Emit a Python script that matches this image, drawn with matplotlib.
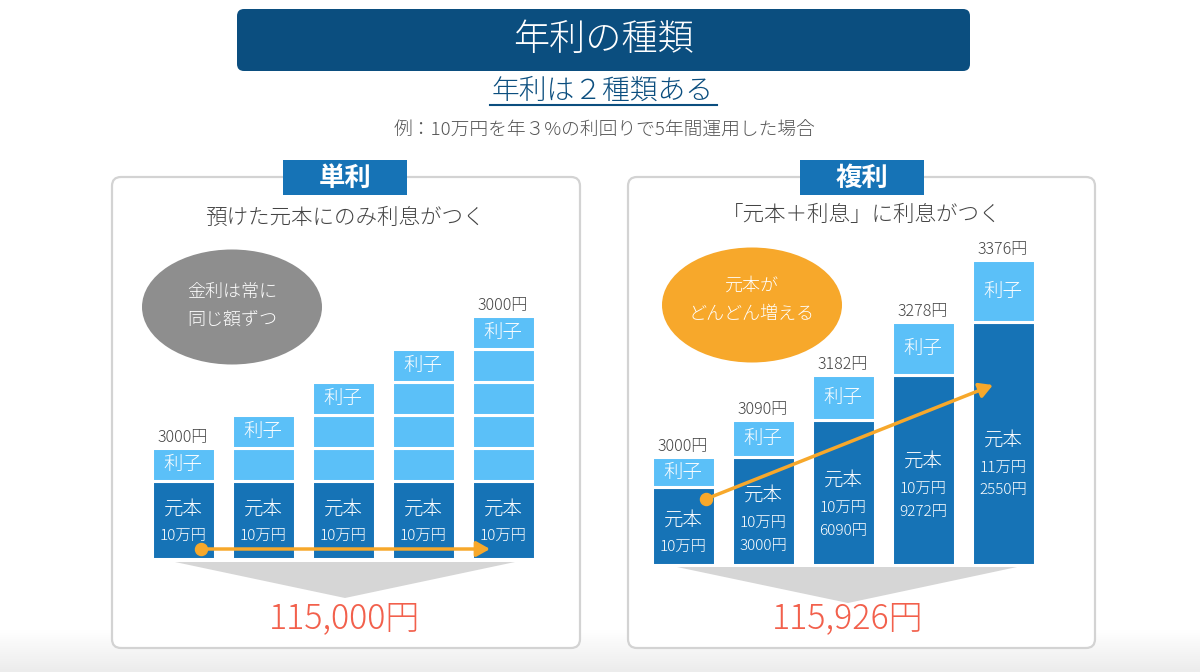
import numpy as np
import matplotlib
matplotlib.use("Agg")
import matplotlib.pyplot as plt
from matplotlib.patches import FancyBboxPatch, Ellipse, Polygon

plt.rcParams['font.family'] = ['Noto Sans CJK JP', 'DejaVu Sans']
plt.rcParams['font.weight'] = 'light'

# ---------------- data ----------------
years = [1, 2, 3, 4, 5]
simple_principal = [100000, 100000, 100000, 100000, 100000]
simple_interest = [3000, 3000, 3000, 3000, 3000]          # interest earned each year
compound_principal = [100000, 103000, 106090, 109272, 112550]
compound_interest = [3000, 3090, 3182, 3278, 3376]
simple_total = 115000
compound_total = 115926

title = "年利の種類"
subtitle = "年利は２種類ある"
example = "例：10万円を年３%の利回りで5年間運用した場合"
simple_name = "単利"
compound_name = "複利"
simple_desc = "預けた元本にのみ利息がつく"
compound_desc = "「元本＋利息」に利息がつく"
simple_bubble = "金利は常に\n同じ額ずつ"
compound_bubble = "元本が\nどんどん増える"

# ---------------- style ----------------
C_TITLE = "#0b4e7f"
C_TAB = "#1673b6"
C_PRIN = "#1673b6"
C_INT = "#5bc0f8"
C_TEXT = "#444444"
C_RED = "#f2604c"
C_ORANGE = "#f7a82b"
C_GRAYBUB = "#8e8e8e"

W, H = 1200, 672
fig = plt.figure(figsize=(W / 100, H / 100), dpi=100)
bg = fig.add_axes([0, 0, 1, 1])
bg.axis('off')

# bottom gradient
grad = np.linspace(0, 1, 50).reshape(-1, 1)
bg.imshow(grad, extent=(0, W, H, 630), cmap=matplotlib.colors.LinearSegmentedColormap.from_list(
    'g', ['#ffffff', '#ececec']), aspect='auto', zorder=0)
bg.set_xlim(0, W)
bg.set_ylim(H, 0)

# title box
bg.add_patch(FancyBboxPatch((237, 9), 733, 62, boxstyle="round,pad=0,rounding_size=7",
                            fc=C_TITLE, ec='none', zorder=1))
bg.text(603, 40, title, color='white', fontsize=26, ha='center', va='center', zorder=2)
bg.text(603, 91, subtitle, color=C_TITLE, fontsize=20, ha='center', va='center')
bg.plot([490, 717], [105, 105], color=C_TITLE, lw=1.5)
bg.text(605, 131, example, color='#555555', fontsize=13.5, ha='center', va='center')

# panels
for (x0, x1, name, desc, cx, descy) in [(112, 580, simple_name, simple_desc, 345, 218),
                                         (628, 1095, compound_name, compound_desc, 862, 215)]:
    bg.add_patch(FancyBboxPatch((x0, 177), x1 - x0, 471, boxstyle="round,pad=0,rounding_size=9",
                                fc='white', ec='#d3d3d3', lw=1.6, zorder=1))
    bg.add_patch(FancyBboxPatch((cx - 62, 160), 124, 35, boxstyle="square,pad=0",
                                fc=C_TAB, ec='none', zorder=2))
    bg.text(cx, 178, name, color='white', fontsize=19, fontweight='bold', ha='center', va='center', zorder=3)
    bg.text(cx, descy, desc, color=C_TEXT, fontsize=15.5, ha='center', va='center', zorder=3)

# bubbles
bg.add_patch(Ellipse((232, 307), 180, 115, fc=C_GRAYBUB, ec='none', zorder=2))
bg.text(232, 306, simple_bubble, color='white', fontsize=13, ha='center', va='center',
        linespacing=1.7, zorder=3)
bg.add_patch(Ellipse((752, 305), 180, 115, fc=C_ORANGE, ec='none', zorder=2))
bg.text(752, 300, compound_bubble, color='white', fontsize=13, ha='center', va='center',
        linespacing=1.7, zorder=3)

# funnels
bg.add_patch(Polygon([(175, 562), (515, 562), (345, 598)], closed=True, fc='#d6d6d6', ec='none', zorder=2))
bg.add_patch(Polygon([(677, 567), (1017, 567), (848, 603)], closed=True, fc='#d6d6d6', ec='none', zorder=2))

# totals
bg.text(345, 618, f"{simple_total:,}円", color=C_RED, fontsize=24.5, ha='center', va='center', zorder=3)
bg.text(848, 618, f"{compound_total:,}円", color=C_RED, fontsize=24.5, ha='center', va='center', zorder=3)


# ---------------- scales (illustrative, exaggerated growth) ----------------
def make_scale(a, b):
    def fwd(v):
        v = np.asarray(v, float)
        d = (v - 1e5) / 1000.0
        return np.where(v <= 1e5, 78.0 * v / 1e5, 78.0 + a * d + b * d * d)

    def inv(y):
        y = np.asarray(y, float)
        if b == 0:
            d = (y - 78.0) / a
        else:
            d = (-a + np.sqrt(np.maximum(a * a + 4 * b * (y - 78.0), 0))) / (2 * b)
        return np.where(y <= 78.0, y * 1e5 / 78.0, 1e5 + d * 1000.0)
    return fwd, inv


def bar_axes(left_px, bottom_px, scale):
    hpx = 340
    ax = fig.add_axes([left_px / W, (H - bottom_px) / H, 400 / W, hpx / H])
    ax.set_yscale('function', functions=scale)
    ax.set_xlim(-0.5, 4.5)
    ax.set_ylim(0, float(scale[1](hpx)))
    ax.patch.set_alpha(0)
    ax.axis('off')
    return ax


def yen_lines(p):
    man, rest = divmod(int(p), 10000)
    lines = [f"{man}万円"]
    if rest:
        lines.append(f"{rest}円")
    return lines


BW = 63 / 80
EDGE = 2.2
FS_MAIN = 14
FS_NUM = 11
FS_LAB = 11.5
x = np.arange(len(years))

# ---- simple interest panel ----
fs, fi = make_scale(11.0, 0.0)
axL = bar_axes(143, 559, (fs, fi))
axL.bar(x, simple_principal, width=BW, color=C_PRIN, edgecolor='white', lw=EDGE, zorder=3)
for i in range(len(years)):
    bottom = simple_principal[i]
    for k in range(i + 1):
        axL.bar(x[i], simple_interest[k], bottom=bottom, width=BW, color=C_INT,
                edgecolor='white', lw=EDGE, zorder=3)
        bottom += simple_interest[k]
    top_lo = bottom - simple_interest[i]
    ymid = float(fi((fs(top_lo) + fs(bottom)) / 2))
    axL.text(x[i], ymid, "利子", color='white', fontsize=FS_MAIN, ha='center', va='center', zorder=4)
    if i in (0, len(years) - 1):
        axL.annotate(f"{simple_interest[i]}円", (x[i], bottom), xytext=(0, 1.5), textcoords='offset points',
                     ha='center', va='bottom', fontsize=FS_LAB, color=C_TEXT)
    # principal label
    yc = float(fi(fs(simple_principal[i]) * 0.47))
    lines = ["元本"] + yen_lines(simple_principal[i])
    offs = [9.5, -10] if len(lines) == 2 else [18, -1.5, -18]
    for ln, off in zip(lines, offs):
        axL.annotate(ln, (x[i], yc), xytext=(0, off), textcoords='offset points', ha='center', va='center',
                     color='white', fontsize=FS_MAIN if ln == "元本" else FS_NUM, zorder=4)

# ---- compound interest panel ----
fc_, ic_ = make_scale(9.0, 0.33)
axR = bar_axes(643, 565, (fc_, ic_))
axR.bar(x, compound_principal, width=BW, color=C_PRIN, edgecolor='white', lw=EDGE, zorder=3)
axR.bar(x, compound_interest, bottom=compound_principal, width=BW, color=C_INT,
        edgecolor='white', lw=EDGE, zorder=3)
for i in range(len(years)):
    p = compound_principal[i]
    t = p + compound_interest[i]
    ymid = float(ic_((fc_(p) + fc_(t)) / 2))
    axR.text(x[i], ymid, "利子", color='white', fontsize=FS_MAIN, ha='center', va='center', zorder=4)
    axR.annotate(f"{compound_interest[i]}円", (x[i], t), xytext=(0, 1.5), textcoords='offset points',
                 ha='center', va='bottom', fontsize=FS_LAB, color=C_TEXT)
    yc = float(ic_(fc_(p) * 0.41))
    lines = ["元本"] + yen_lines(p)
    offs = [9.5, -10] if len(lines) == 2 else [18.5, -1.5, -18]
    for ln, off in zip(lines, offs):
        axR.annotate(ln, (x[i], yc), xytext=(0, off), textcoords='offset points', ha='center', va='center',
                     color='white', fontsize=FS_MAIN if ln == "元本" else FS_NUM, zorder=4)

# ---------------- overlay with the orange arrows ----------------
ov = fig.add_axes([0, 0, 1, 1])
ov.set_xlim(0, W)
ov.set_ylim(H, 0)
ov.patch.set_alpha(0)
ov.axis('off')
for (sx, sy, ex, ey) in [(201, 549, 490, 549), (706, 499, 993, 385)]:
    ov.annotate("", xy=(ex, ey), xytext=(sx, sy),
                arrowprops=dict(arrowstyle='-|>,head_length=0.8,head_width=0.45', color=C_ORANGE, lw=2.5,
                                shrinkA=0, shrinkB=0))
    ov.scatter([sx], [sy], s=75, color=C_ORANGE, zorder=6)

fig.savefig("out.png", dpi=100)
